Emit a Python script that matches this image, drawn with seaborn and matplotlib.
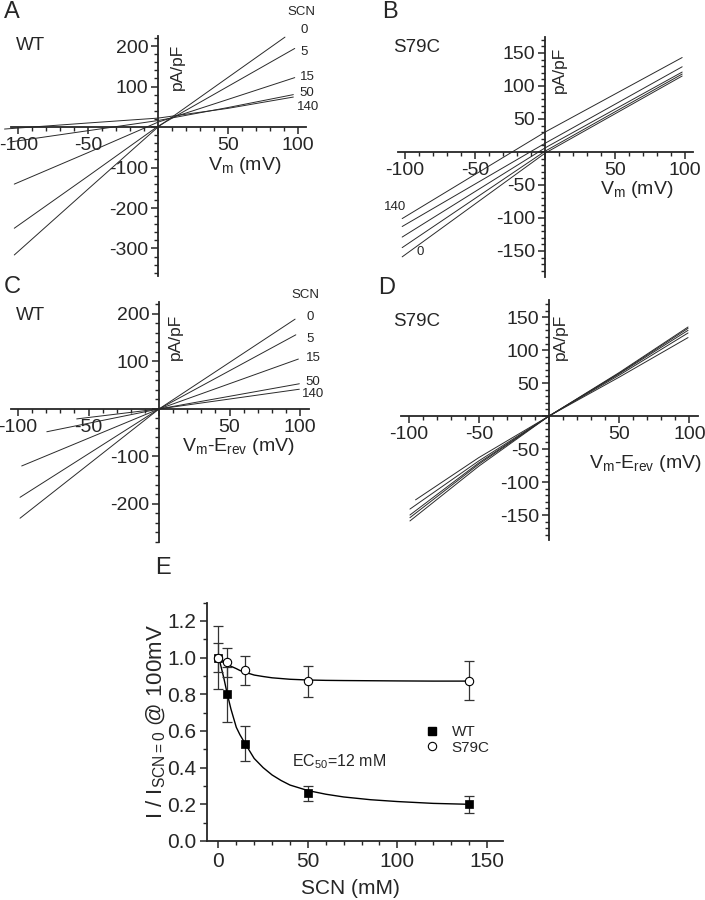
import numpy as np
import pandas as pd
import matplotlib
matplotlib.use("Agg")
import matplotlib.pyplot as plt
import seaborn as sns
from matplotlib.ticker import MultipleLocator, FuncFormatter
from matplotlib.lines import Line2D

# ---- values ----
scn_levels = [0, 5, 15, 50, 140]

# A: WT, current density (pA/pF) vs Vm (mV), one row per SCN level
a_volt = [[-103, -50, 0, 50, 91],
          [-103, -50, 0, 50, 98],
          [-103, -50, 0, 50, 98],
          [-106, -50, 0, 50, 97],
          [-110, -50, 0, 50, 97]]
a_curr = [[-316, -153, 0, 122, 222],
          [-250, -121, 2, 100, 194],
          [-141, -63, 12, 68, 122],
          [-37, -9, 16, 48, 80],
          [-5, 10, 22, 46, 74]]

# B: S79C vs Vm
b_volt = [[-102, 0, 98]] * 5
b_curr = [[-159, -2, 115],
          [-145, 1, 118],
          [-129, 6, 121],
          [-113, 13, 129],
          [-101, 30, 143]]

# C: WT vs Vm - Erev
c_volt = [[-98.6, 0, 96.5],
          [-98.6, 0, 97],
          [-97.4, 0, 98.8],
          [-79.6, 0, 99.5],
          [-58.4, 0, 99.5]]
c_curr = [[-230, 0, 189],
          [-186, 0, 156],
          [-120, 0, 105],
          [-48, 0, 53],
          [-21, 0, 41.5]]

# D: S79C vs Vm - Erev
d_volt = [[-99, -50, 0, 50, 99],
          [-99, -50, 0, 50, 99],
          [-99, -50, 0, 50, 99],
          [-99, -50, 0, 50, 99],
          [-95, -50, 0, 50, 99]]
d_curr = [[-159, -76, 0, 66, 135],
          [-154, -73, 0, 65, 133],
          [-150, -71, 0, 64, 130],
          [-141, -68, 0, 62, 126],
          [-127, -63, 0, 59, 119]]

# E: normalised current at +100 mV vs SCN
conc = [0, 5, 15, 50, 140]
wt_mean = [1.00, 0.80, 0.53, 0.26, 0.20]
wt_err = [0.08, 0.15, 0.095, 0.04, 0.045]
s79c_mean = [1.00, 0.975, 0.93, 0.87, 0.875]
s79c_err = [0.17, 0.08, 0.077, 0.083, 0.105]

fit_conc = [0, 1, 2, 3, 5, 7, 10, 12, 15, 20, 25, 30, 35, 40, 50, 60, 70, 85, 100, 120, 140]
wt_fit = [1.0, 0.97, 0.93, 0.89, 0.80, 0.72, 0.62, 0.58, 0.53, 0.45, 0.40, 0.36, 0.33,
          0.305, 0.275, 0.255, 0.24, 0.225, 0.215, 0.205, 0.20]
s79c_fit = [1.0, 0.995, 0.99, 0.98, 0.965, 0.953, 0.94, 0.93, 0.92, 0.905, 0.897, 0.89,
            0.886, 0.882, 0.878, 0.876, 0.875, 0.874, 0.873, 0.872, 0.872]

# ---- style ----
sns.set_style("ticks")
plt.rcParams['font.family'] = ['Liberation Sans', 'DejaVu Sans']
plt.rcParams['axes.unicode_minus'] = False
plt.rcParams['mathtext.fontset'] = 'custom'
plt.rcParams['mathtext.rm'] = 'Liberation Sans'
plt.rcParams['mathtext.it'] = 'Liberation Sans:italic'
plt.rcParams['mathtext.bf'] = 'Liberation Sans:bold'

W, H = 705, 900
fig = plt.figure(figsize=(W / 100, H / 100), dpi=100)
fig.patch.set_facecolor('white')


def px_text(x, y, s, size, **kw):
    fig.text(x / W, 1 - y / H, s, ha=kw.pop('ha', 'center'), va=kw.pop('va', 'center'),
             fontsize=size, **kw)


def trace_frame(volts, currs):
    rows = []
    for lvl, vv, ii in zip(scn_levels, volts, currs):
        for v, i in zip(vv, ii):
            rows.append((lvl, v, i))
    return pd.DataFrame(rows, columns=['SCN', 'V', 'I'])


def iv_panel(rect, volts, currs, ylim, ymaj, ymin):
    ax = fig.add_axes(rect)
    ax.patch.set_alpha(0)
    df = trace_frame(volts, currs)
    sns.lineplot(data=df, x='V', y='I', units='SCN', estimator=None, sort=False,
                 color='#2a2a2a', lw=0.7, ax=ax, clip_on=False, legend=False)
    ax.set_xlim(-105, 106)
    ax.set_ylim(*ylim)
    for s in ['top', 'right']:
        ax.spines[s].set_visible(False)
    for s in ['left', 'bottom']:
        ax.spines[s].set_position(('data', 0))
        ax.spines[s].set_linewidth(1.3)
    ax.xaxis.set_major_locator(MultipleLocator(50))
    ax.xaxis.set_minor_locator(MultipleLocator(10))
    ax.yaxis.set_major_locator(MultipleLocator(ymaj))
    ax.yaxis.set_minor_locator(MultipleLocator(ymin))
    fmt = FuncFormatter(lambda v, p: '' if abs(v) < 1e-9 else f'{v:.0f}')
    ax.xaxis.set_major_formatter(fmt)
    ax.yaxis.set_major_formatter(fmt)
    ax.tick_params(which='major', direction='out', length=5, width=1.1, labelsize=14, pad=2)
    ax.tick_params(which='minor', direction='out', length=3, width=1.0)
    ax.set_xlabel('')
    ax.set_ylabel('')
    return ax


# A
iv_panel([0.0163, 0.6933, 0.4176, 0.2668], a_volt, a_curr, (-368, 225), 100, 20)
# B
iv_panel([0.5645, 0.6926, 0.4190, 0.2662], b_volt, b_curr, (-189, 174), 50, 10)
# C
iv_panel([0.0156, 0.3978, 0.4220, 0.2666], c_volt, c_curr, (-280, 225), 100, 20)
# D
iv_panel([0.5695, 0.3999, 0.4204, 0.2668], d_volt, d_curr, (-188, 176), 50, 10)

# ---- E ----
axE = fig.add_axes([0.2943, 0.0656, 0.4191, 0.2648])
fit_df = pd.DataFrame({'SCN': fit_conc * 2,
                       'y': wt_fit + s79c_fit,
                       'grp': ['WT'] * len(fit_conc) + ['S79C'] * len(fit_conc)})
sns.lineplot(data=fit_df, x='SCN', y='y', units='grp', estimator=None, sort=False,
             color='black', lw=1.0, ax=axE, legend=False)
axE.errorbar(conc, s79c_mean, yerr=s79c_err, fmt='none', ecolor='#333333',
             elinewidth=0.9, capsize=3.5, capthick=0.9)
axE.errorbar(conc, wt_mean, yerr=wt_err, fmt='none', ecolor='#333333',
             elinewidth=0.9, capsize=3.5, capthick=0.9)
sns.scatterplot(x=conc, y=wt_mean, marker='s', s=36, color='black', edgecolor='black',
                linewidth=0.5, ax=axE, zorder=5)
sns.scatterplot(x=conc, y=s79c_mean, marker='o', s=36, facecolor='white', edgecolor='black',
                linewidth=0.8, ax=axE, zorder=5)
axE.set_xlim(-6.1, 159)
axE.set_ylim(0, 1.3)
for s in ['top', 'right']:
    axE.spines[s].set_visible(False)
for s in ['left', 'bottom']:
    axE.spines[s].set_linewidth(1.3)
axE.xaxis.set_major_locator(MultipleLocator(50))
axE.xaxis.set_minor_locator(MultipleLocator(10))
axE.yaxis.set_major_locator(MultipleLocator(0.2))
axE.yaxis.set_minor_locator(MultipleLocator(0.1))
axE.yaxis.set_major_formatter(FuncFormatter(lambda v, p: f'{v:.1f}'))
axE.tick_params(which='major', direction='out', length=5, width=1.1, labelsize=15, pad=3)
axE.tick_params(which='minor', direction='out', length=3, width=1.0)
axE.set_xlabel('')
axE.set_ylabel('')

handles = [Line2D([], [], ls='none', marker='s', ms=6, mfc='black', mec='black'),
           Line2D([], [], ls='none', marker='o', ms=6, mfc='white', mec='black', mew=0.8)]
axE.legend(handles, ['WT', 'S79C'], loc='upper left', frameon=False,
           bbox_to_anchor=(424 / W, 1 - 725 / H), bbox_transform=fig.transFigure,
           fontsize=11, handlelength=1.0, handletextpad=0.8, labelspacing=0.1,
           borderpad=0, borderaxespad=0)

# ---- texts ----
for lab, x, y in [('A', 12, 12), ('B', 390, 12), ('C', 12, 287), ('D', 387, 288), ('E', 163, 568)]:
    px_text(x, y, lab, 17)

px_text(30, 45, 'WT', 13.5)
px_text(417, 48, 'S79C', 13.5)
px_text(30, 315, 'WT', 13.5)
px_text(417, 322, 'S79C', 13.5)

for x, y in [(177, 67), (559, 70), (175, 337), (560, 337)]:
    px_text(x, y, 'pA/pF', 12.5, rotation=90)

px_text(245, 165, r'V$_\mathrm{m}$ (mV)', 14)
px_text(637, 190, r'V$_\mathrm{m}$ (mV)', 14)
px_text(238, 447, r'V$_\mathrm{m}$-E$_\mathrm{rev}$ (mV)', 14)
px_text(645, 463, r'V$_\mathrm{m}$-E$_\mathrm{rev}$ (mV)', 14)

px_text(301, 12, 'SCN', 9.5)
for lab, x, y in [('0', 304, 30), ('5', 304, 52), ('15', 307, 77), ('50', 307, 93), ('140', 308, 107)]:
    px_text(x, y, lab, 9.5)
px_text(305, 295, 'SCN', 9.5)
for lab, x, y in [('0', 310, 317), ('5', 310, 339), ('15', 313, 358), ('50', 313, 382), ('140', 313, 394)]:
    px_text(x, y, lab, 9.5)
px_text(395, 207, '140', 9.5)
px_text(420, 252, '0', 9.5)

px_text(156, 722, r'I / I$_\mathrm{SCN=0}$ @ 100mV', 16, rotation=90)
px_text(350, 888, 'SCN (mM)', 15)
px_text(292, 762, r'EC$_\mathrm{50}$=12 mM', 11.5, ha='left')

fig.savefig('out.png', dpi=100, facecolor='white')
